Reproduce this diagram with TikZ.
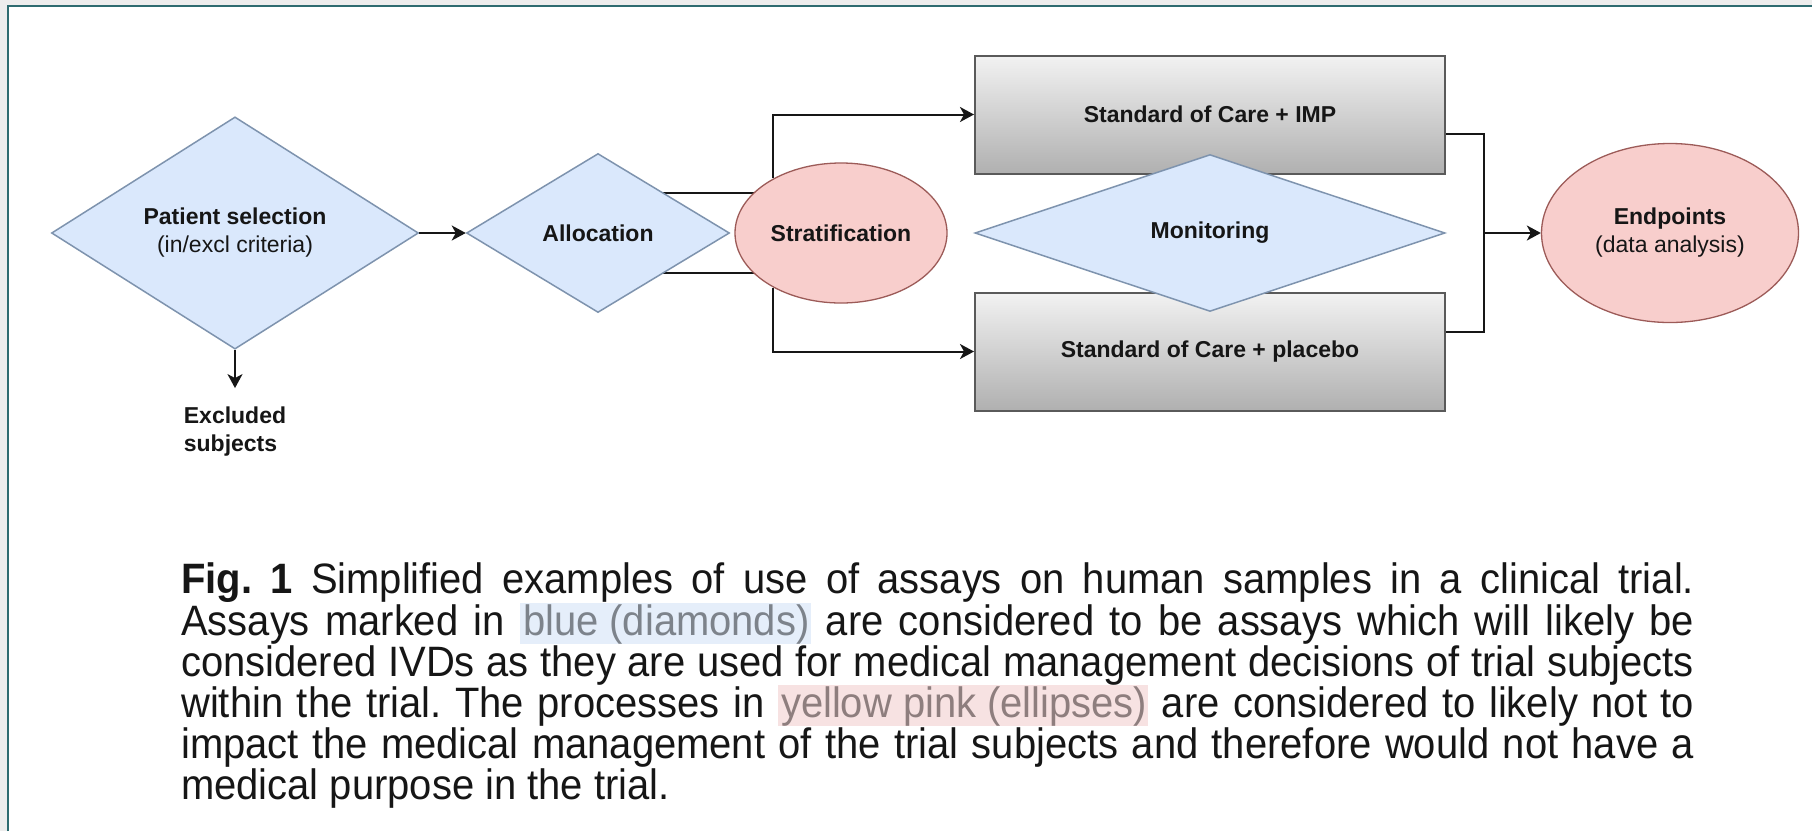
\documentclass[tikz,border=0pt]{standalone}
\usepackage{fontspec}
\setmainfont{Liberation Sans}
\newfontfamily\captionface[FakeStretch=0.94]{Liberation Sans}
\usetikzlibrary{shapes.geometric,arrows.meta,backgrounds}

\definecolor{diafill}{HTML}{DAE8FC}
\definecolor{diaedge}{HTML}{7E93AE}
\definecolor{ellfill}{HTML}{F8CECC}
\definecolor{elledge}{HTML}{9C5B58}
\definecolor{boxtop}{HTML}{F2F2F2}
\definecolor{boxbot}{HTML}{B0B0B0}
\definecolor{boxedge}{HTML}{5A5A5A}
\definecolor{frameline}{HTML}{2E6B70}
\definecolor{framegray}{HTML}{EDEDED}
\definecolor{hlbluebg}{HTML}{E5EEFA}
\definecolor{hlbluetx}{HTML}{7D838B}
\definecolor{hlpinkbg}{HTML}{F7E2E2}
\definecolor{hlpinktx}{HTML}{8E7E7E}
\definecolor{ink}{HTML}{161616}

% tinted phrase in the caption: background colour, text colour, words
\newcommand\hlmark[3]{{\setlength{\fboxsep}{0pt}\colorbox{#1}{\rule[-9pt]{0pt}{41pt}\hspace{3pt}\textcolor{#2}{#3}\hspace{1pt}}}}

\begin{document}
\begin{tikzpicture}[x=1pt,y=-1pt,
  lbl/.style={font=\fontsize{23}{28}\selectfont, text=ink, align=center, inner sep=0pt},
  bluediamond/.style={lbl, diamond, draw=diaedge, line width=1.5pt, fill=diafill},
  pinkellipse/.style={lbl, ellipse, draw=elledge, line width=1.3pt, fill=ellfill},
  armbox/.style={lbl, rectangle, draw=boxedge, line width=2pt, top color=boxtop,
    bottom color=boxbot, minimum width=470pt, minimum height=118pt},
  conn/.style={draw=ink, line width=2pt},
  flow/.style={conn, -{Stealth[length=14pt,width=15pt,inset=4pt]}}]

\useasboundingbox (0,0) rectangle (1812,831);

% process nodes
\node[bluediamond, minimum width=367pt, minimum height=198pt] (pat) at (235,233)
  {\textbf{Patient selection}\\(in/excl criteria)};
\node[bluediamond, minimum width=263pt, minimum height=159pt] (alloc) at (598,233)
  {\textbf{Allocation}};
\node[pinkellipse, minimum width=212pt, minimum height=140pt] (strat) at (841,233)
  {\textbf{Stratification}};
\node[armbox] (imp) at (1210,114.5) {\textbf{Standard of Care + IMP}};
\node[armbox] (plc) at (1210,351.5) {\textbf{Standard of Care + placebo}};
\node[bluediamond, minimum width=470pt, minimum height=157pt] (mon) at (1210,233)
  {\textbf{Monitoring}};
\node[pinkellipse, minimum width=257pt, minimum height=179pt] (endp) at (1670,233)
  {\textbf{Endpoints}\\(data analysis)};
\node[lbl, align=left] (excl) at (235,432) {\textbf{Excluded}\\\textbf{subjects}};

% page frame and the two allocation links, behind the shapes
\begin{scope}[on background layer]
  \fill[white] (0,0) rectangle (1812,831);
  \fill[framegray] (0,0) rectangle (1812,5);
  \fill[framegray] (0,0) rectangle (7,831);
  \draw[frameline, line width=2pt] (8,831) -- (8,6) -- (1812,6);
  \draw[conn] ([yshift=40pt]alloc.center) -- ([yshift=40pt]strat.center);
  \draw[conn] ([yshift=-40pt]alloc.center) -- ([yshift=-40pt]strat.center);
\end{scope}

% connectors
\draw[flow] (pat.east) -- (alloc.west);
\draw[flow, shorten >=19pt] (pat.south) -- (excl.north);
\draw[flow] (strat.141) |- (imp.west);
\draw[flow] (strat.219) |- (plc.west);
\coordinate (join) at (1484,233);
\draw[conn] ([yshift=-19.5pt]imp.east) -| (join);
\draw[conn] ([yshift=19.5pt]plc.east) -| (join);
\draw[flow] (join) -- (endp.west);

% caption
\node[anchor=north west, inner sep=0pt, align=left, text=ink,
      font=\captionface\fontsize{42.5}{41}\selectfont] (caption) at (181,562) {%
\hbox to 1513pt{\textbf{Fig.\ 1} Simplified examples of use of assays on human samples in a clinical trial.}\\
\hbox to 1513pt{Assays marked in \hlmark{hlbluebg}{hlbluetx}{blue (diamonds)} are considered to be assays which will likely be}\\
\hbox to 1513pt{considered IVDs as they are used for medical management decisions of trial subjects}\\
\hbox to 1513pt{within the trial.\ The processes in \hlmark{hlpinkbg}{hlpinktx}{yellow pink (ellipses)} are considered to likely not to}\\
\hbox to 1513pt{impact the medical management of the trial subjects and therefore would not have a}\\
medical purpose in the trial.};
\end{tikzpicture}
\end{document}
